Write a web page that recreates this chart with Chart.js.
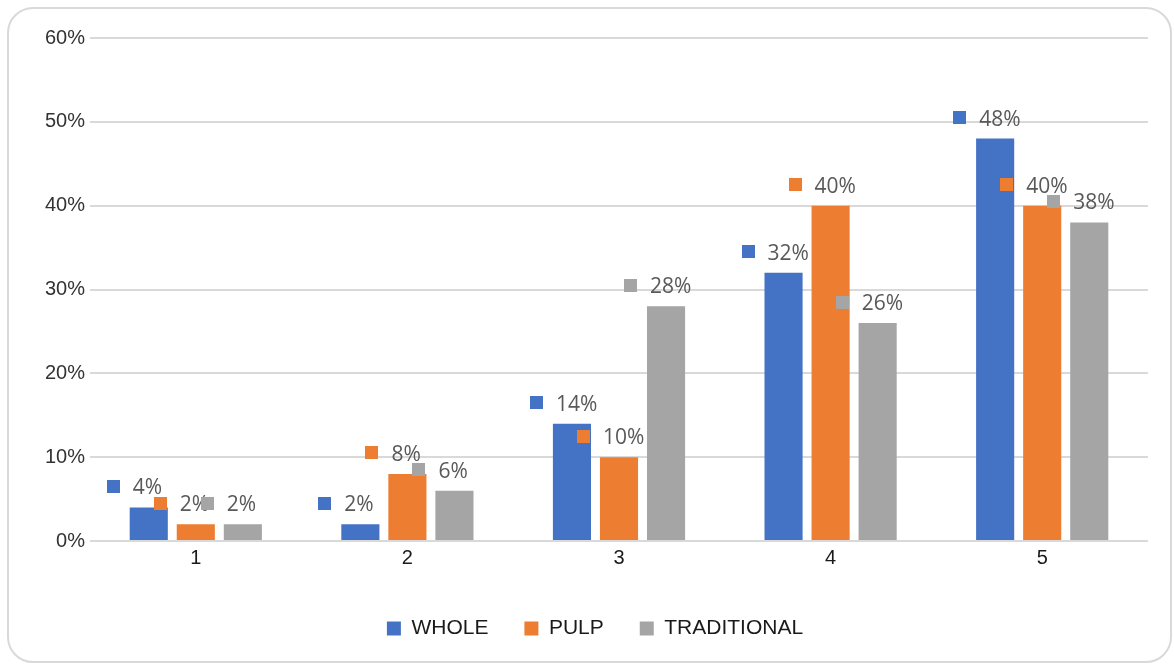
<!DOCTYPE html>
<html>
<head>
<meta charset="utf-8">
<script src="https://cdn.jsdelivr.net/npm/chart.js@4.4.1/dist/chart.umd.min.js"></script>
<style>
  html, body { margin: 0; padding: 0; background: #fff; }
  #wrap { position: relative; width: 1174px; height: 666px; }
  #frame {
    position: absolute; left: 7px; top: 7px; width: 1161px; height: 652px;
    border: 2px solid #d9d9d9; border-radius: 26px; box-sizing: content-box;
  }
  canvas { position: absolute; left: 0; top: 0; }
</style>
</head>
<body>
<div id="wrap">
  <div id="frame"></div>
  <canvas id="chart" width="1174" height="666"></canvas>
</div>
<script>
// 類別與數據
const categories = ['1', '2', '3', '4', '5'];
const seriesNames = ['WHOLE', 'PULP', 'TRADITIONAL'];
const wholeValues = [4, 2, 14, 32, 48];
const pulpValues = [2, 8, 10, 40, 40];
const traditionalValues = [2, 6, 28, 26, 38];
const yTicks = [0, 10, 20, 30, 40, 50, 60];

const colors = ['#4472C4', '#ED7D31', '#A5A5A5'];

// 資料標籤：圖例方塊 + 數值
const keyLabels = {
    id: 'keyLabels',
    afterDatasetsDraw(chart) {
        const ctx = chart.ctx;
        ctx.save();
        ctx.font = '21px "Open Sans"';
        ctx.textAlign = 'left';
        ctx.textBaseline = 'middle';
        chart.data.datasets.forEach((ds, i) => {
            const meta = chart.getDatasetMeta(i);
            meta.data.forEach((bar, j) => {
                const cx = bar.x;
                const cy = bar.y - 21;
                ctx.fillStyle = ds.backgroundColor;
                ctx.fillRect(Math.round(cx - 42), Math.round(cy - 6.5), 13, 13);
                ctx.fillStyle = '#595959';
                ctx.fillText(ds.data[j] + '%', cx - 16, cy + 2);
            });
        });
        ctx.restore();
    }
};

const ctx = document.getElementById('chart').getContext('2d');
new Chart(ctx, {
    type: 'bar',
    data: {
        labels: categories,
        datasets: [
            { label: seriesNames[0], data: wholeValues, backgroundColor: colors[0] },
            { label: seriesNames[1], data: pulpValues, backgroundColor: colors[1] },
            { label: seriesNames[2], data: traditionalValues, backgroundColor: colors[2] }
        ]
    },
    options: {
        responsive: false,
        animation: false,
        layout: { padding: { left: 42, right: 26, top: 38, bottom: 17 } },
        datasets: {
            bar: { categoryPercentage: 0.667, barPercentage: 0.81 }
        },
        plugins: {
            tooltip: { enabled: false },
            legend: {
                position: 'bottom',
                labels: {
                    boxWidth: 14,
                    boxHeight: 14,
                    padding: 36,
                    color: '#1a1a1a',
                    font: { family: '"Liberation Sans", Arial', size: 21 }
                }
            }
        },
        scales: {
            x: {
                grid: { display: false, drawTicks: false },
                border: { display: false },
                ticks: {
                    padding: 5,
                    color: '#1a1a1a',
                    font: { family: '"Liberation Sans", Arial', size: 20 }
                },
                afterFit(scale) { scale.height = 41; }
            },
            y: {
                min: 0,
                max: 60,
                afterBuildTicks(scale) { scale.ticks = yTicks.map(v => ({ value: v })); },
                grid: { color: '#d9d9d9', lineWidth: 2, drawTicks: false },
                border: { display: false },
                ticks: {
                    padding: 5,
                    color: '#333333',
                    font: { family: '"Liberation Sans", Arial', size: 20 },
                    callback: v => v + '%'
                },
                afterFit(scale) { scale.width = 48; }
            }
        }
    },
    plugins: [keyLabels]
});
</script>
</body>
</html>
